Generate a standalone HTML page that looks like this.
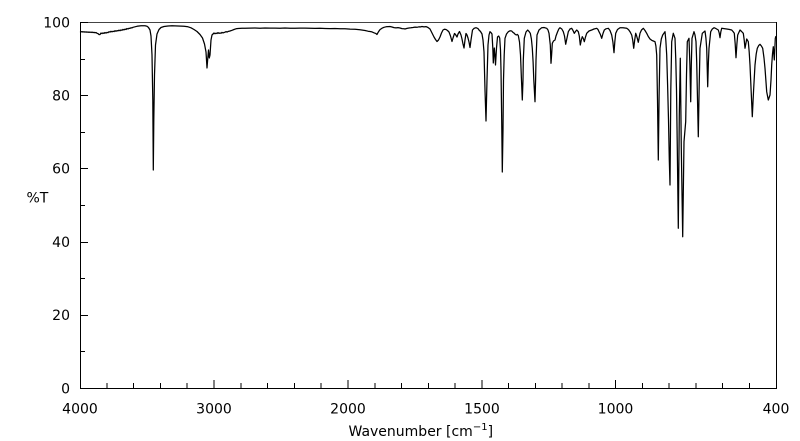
<!DOCTYPE html>
<html>
<head>
<meta charset="utf-8">
<style>
  html,body{margin:0;padding:0;background:#fff;}
  svg{display:block;}
  text{font-family:"DejaVu Sans","Liberation Sans",sans-serif;font-size:14px;fill:#000;}
</style>
</head>
<body>
<svg width="800" height="441" viewBox="0 0 800 441" xmlns="http://www.w3.org/2000/svg">
  <rect x="0" y="0" width="800" height="441" fill="#fff"/>

  <!-- frame -->
  <line x1="80" y1="22.5" x2="776" y2="22.5" stroke="#444" stroke-width="1"/>
  <line x1="776.5" y1="22" x2="776.5" y2="388.5" stroke="#000" stroke-width="1"/>
  <line x1="80.5" y1="22" x2="80.5" y2="388.5" stroke="#000" stroke-width="1"/>
  <line x1="80" y1="388.5" x2="777" y2="388.5" stroke="#000" stroke-width="1"/>

  <!-- y ticks -->
  <g stroke="#000" stroke-width="1">
    <line x1="80" y1="22.5" x2="88" y2="22.5"/>
    <line x1="80" y1="59.5" x2="85" y2="59.5"/>
    <line x1="80" y1="95.5" x2="88" y2="95.5"/>
    <line x1="80" y1="132.5" x2="85" y2="132.5"/>
    <line x1="80" y1="168.5" x2="88" y2="168.5"/>
    <line x1="80" y1="205.5" x2="85" y2="205.5"/>
    <line x1="80" y1="242.5" x2="88" y2="242.5"/>
    <line x1="80" y1="278.5" x2="85" y2="278.5"/>
    <line x1="80" y1="315.5" x2="88" y2="315.5"/>
    <line x1="80" y1="351.5" x2="85" y2="351.5"/>
  </g>

  <!-- x ticks -->
  <g stroke="#000" stroke-width="1">
    <line x1="107" y1="388" x2="107" y2="383"/>
    <line x1="133.5" y1="388" x2="133.5" y2="383"/>
    <line x1="160.5" y1="388" x2="160.5" y2="383"/>
    <line x1="187" y1="388" x2="187" y2="383"/>
    <line x1="214" y1="388" x2="214" y2="380"/>
    <line x1="241" y1="388" x2="241" y2="383"/>
    <line x1="267.5" y1="388" x2="267.5" y2="383"/>
    <line x1="294.5" y1="388" x2="294.5" y2="383"/>
    <line x1="321" y1="388" x2="321" y2="383"/>
    <line x1="348" y1="388" x2="348" y2="380"/>
    <line x1="375" y1="388" x2="375" y2="383"/>
    <line x1="401.5" y1="388" x2="401.5" y2="383"/>
    <line x1="428.5" y1="388" x2="428.5" y2="383"/>
    <line x1="455" y1="388" x2="455" y2="383"/>
    <line x1="482" y1="388" x2="482" y2="380"/>
    <line x1="508.5" y1="388" x2="508.5" y2="383"/>
    <line x1="535.5" y1="388" x2="535.5" y2="383"/>
    <line x1="562" y1="388" x2="562" y2="383"/>
    <line x1="589" y1="388" x2="589" y2="383"/>
    <line x1="615.5" y1="388" x2="615.5" y2="380"/>
    <line x1="642.5" y1="388" x2="642.5" y2="383"/>
    <line x1="669" y1="388" x2="669" y2="383"/>
    <line x1="696" y1="388" x2="696" y2="383"/>
    <line x1="722.5" y1="388" x2="722.5" y2="383"/>
    <line x1="749.5" y1="388" x2="749.5" y2="383"/>
  </g>

  <!-- y labels -->
  <text x="70" y="27.5" text-anchor="end">100</text>
  <text x="70" y="100.5" text-anchor="end">80</text>
  <text x="70" y="173.5" text-anchor="end">60</text>
  <text x="70" y="247" text-anchor="end">40</text>
  <text x="70" y="320" text-anchor="end">20</text>
  <text x="70" y="393.5" text-anchor="end">0</text>
  <text x="26.5" y="202.5">%T</text>

  <!-- x labels -->
  <text x="80" y="413.5" text-anchor="middle">4000</text>
  <text x="214" y="413.5" text-anchor="middle">3000</text>
  <text x="348" y="413.5" text-anchor="middle">2000</text>
  <text x="482" y="413.5" text-anchor="middle">1500</text>
  <text x="615.5" y="413.5" text-anchor="middle">1000</text>
  <text x="776" y="413.5" text-anchor="middle">400</text>
  <text x="348.5" y="436">Wavenumber [cm<tspan dy="-6" font-size="10">−1</tspan><tspan dy="6">]</tspan></text>

  <!-- spectrum -->
  <polyline fill="none" stroke="#000" stroke-width="1.25" stroke-linejoin="round" points="
80,31.5 81,31.9 82,31.6 83,32.1 84,31.7 85,32.2 86,31.8 87,32.3 88,31.9 89,32.4 90,32 91,32.5 92,32.1 93,32.6 94,32.3 95,32.8 96,32.5 97,33.3 98,33.6 99,34.6 100,34.5 101,33 102,33.6 103,32.9 104,33.4 105,32.5 106,33.1 107,32.4 108,32.7 109,31.7 110,32.1 111,31.3 112,31.9 113,31.2 114,31.6 115,30.7 116,31.3 117,30.6 118,30.9 119,30.1 120,30.7 121,29.9 122,30.3 123,29.4 124,29.9 125,29.1 126,29.5 127,28.5 128,29 129,28.3 130,28.4 131,27.7 132,27.9 133,27.3 135,26.8 137,26.3 139,26 141,25.8 143,25.7 145,25.8 147,26.2 148.5,27.5 150,30 151,36 152,55 152.8,100 153.3,170 153.8,120 154.5,75 155.5,45 157,34 159,29.5 161,27.5 164,26.5 168,26 172,25.8 178,26 184,26.3 188,26.8 191,27.8 194,29.5 197,31.5 200,34.5 202.5,38 204.5,44 206,52 207,68 207.8,58 208.5,50 209.3,58 210,55 211,40 212,35 214,33 215,33.8 216,33.1 217,33.6 218,32.6 219,33.4 220,32.9 221,33.3 222,32.4 223,32.9 224,32.5 225,32.2 226,31.6 227,32.1 228,31.5 230,31 232,30.3 234,29.5 236,28.8 238,28.5 242,28.3 245,28.2 250,28.1 255,28 260,28.2 265,28 270,28.1 275,28.1 280,28.2 285,28 290,28.2 295,28.2 300,28.1 305,28.1 310,28.3 315,28.4 320,28.3 325,28.5 330,28.6 335,28.5 340,28.7 345,28.7 350,29.1 355,29.3 360,29.8 365,30.5 368,31.2 370,31.5 372,31.9 374,32.8 376,33.6 377,34.5 378,32.6 379,31 380,29.6 382,28.2 384,27.3 386,26.8 388,26.6 390,26.5 392,27 394,27.6 396,27.9 398,27.6 400,28 402,28.6 404,28.8 405,29 407,28.4 409,28 411,27.8 413,27.5 415,27.1 417,27.3 419,26.8 420,27 422,26.5 424,26.9 426,26.6 428,27.5 430,29 431,31 432.5,34 434,37 435.5,39.5 437,41.5 438.5,40 440,37 441.5,33 443,30 444.5,29.2 446,29.5 447.5,30.5 449,32 450.5,36 452,41.5 453,38 454.5,33.5 455.5,34.5 457,37 458,34 459.5,31.5 461,35 462,39 463,44 464,48 465,40 466,33.5 467,35 468,38 469,42 470,47.5 471,40 472.5,30 474,28.4 476,27.7 478,28.6 479,30 480.5,31.5 482,34 483,40 484,52 485,90 486,121 487,80 488,45 489,35 490,31.7 491,32.6 492,34 492.8,48 493.3,63 494.3,48 495,56 495.5,65 496.5,48 497.5,37 498.7,36 499.7,38 500.5,50 501,70 501.7,120 502.3,172 503,130 503.5,80 504.2,55 505,38.3 506.5,34 508.3,31.7 510,30.8 511.7,31 513,32.4 514.3,33.3 515.3,34.5 516.3,35 517.3,34.4 518.3,35.5 519.5,42 520.5,55 521.4,78 522.3,100 523,80 523.3,60 524.3,38.3 526,32 527.7,30 529,31.4 530.3,33.3 531.4,39 532.3,48.3 533.1,62 533.8,80 535,101.7 535.6,80 536,60 537,35 539,30 541.7,27.7 544,27.5 546.7,28.3 548,30 549,33.3 550.3,45 551,63.3 551.6,55 552.3,43.3 553.5,41 555,40 556,36 557.5,32 558.8,29 560,27.7 561.8,29 563.3,31.7 564.5,36 565.7,44.3 567,38 568.3,31.7 570,29 571.7,28.3 573,30.5 574.3,33.3 575.5,31.5 576.7,30 577.5,30.8 578.3,31.7 579.3,36 580.3,45 581.3,40 582.3,36.7 583.3,38.5 584.3,41.7 585.5,37 586.7,33.3 589,31 591.7,30 594,29 596.7,28.3 598,29.5 599,31.7 600.4,34.5 601.7,38.3 603,33.5 604.3,30 606,28.8 608.3,28.3 610,30.5 611.7,35 612.9,42 614,52.7 614.8,42 615.7,33.3 617.5,29.5 620,27.7 623,27.8 626.7,28.3 628.5,29.6 630,31.7 631.7,35 632.7,40 633.7,48.3 634.7,40 635.7,33.3 636.5,35.5 637.3,38.3 638.3,42.3 639.2,37.5 640,33.3 641.5,30 643.3,28.3 645,30.5 646.7,33.3 648.3,36.5 650,39 651.7,40.3 653.3,41 655,41.7 655.9,46 656.7,55 657.5,100 658.3,160 659.1,95 660,48.3 661.3,39 662.7,35 665,31.7 665.8,40 666.7,55 667.6,85 668.5,120 669.3,160 670,185 670.8,90 671.7,41.7 673.3,33.3 675,38.3 675.8,60 676.5,90 677.3,148.3 678.3,228.3 679.3,115 680.3,58.3 681.3,148.3 682.7,236.7 684,141.7 685.7,121.7 686.5,75 687.3,41.7 689,38.3 689.9,65 690.7,101.7 691.3,65 692,38.3 694,31.7 695,35 696,41.7 696.7,62 697.3,90 698.3,136.7 699.2,85 700,48.3 702.3,33.3 705,31 705.9,38 706.7,48.3 707.7,86.7 708.4,62 709,48.3 710.7,31.7 712.3,29 714,27.7 716,28.6 718.3,30 719.2,33 720,37.7 720.8,32 721.7,28.3 724,28.6 726.7,29 729,29.4 731.7,30 733,31.5 734.3,33.3 735.2,44 736,57.7 736.9,44 737.7,35 740,30 741.6,31.5 743.3,33.3 744.2,40 745,48.3 746.7,39 748.3,41.7 749.2,52 750,65 751.2,92 752.3,116.7 753.6,90 755,65 756.2,54 757.3,48.3 758.7,45.5 760,44.3 761.4,46 762.7,48.3 764,58 765,68.3 766.7,91.7 768.3,100 770,95 771,80 771.7,65 772.5,54 773.3,46.7 774.3,60 775.3,38.3 776,36"/>
</svg>
</body>
</html>
